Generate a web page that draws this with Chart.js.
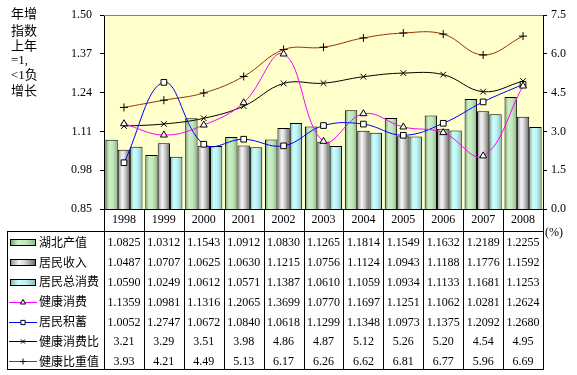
<!DOCTYPE html>
<html>
<head>
<meta charset="utf-8">
<script src="https://cdn.jsdelivr.net/npm/chart.js@4/dist/chart.umd.min.js"></script>
<style>
  html, body { margin: 0; padding: 0; background: #fff; }
  #wrap { width: 577px; height: 375px; }
</style>
</head>
<body>
<div id="wrap"><canvas id="chart"></canvas></div>
<script>
const years = ["1998", "1999", "2000", "2001", "2002", "2003", "2004", "2005", "2006", "2007", "2008"];
const gdpIndex = [1.0825, 1.0312, 1.1543, 1.0912, 1.0830, 1.1265, 1.1814, 1.1549, 1.1632, 1.2189, 1.2255];
const incomeIndex = [1.0487, 1.0707, 1.0625, 1.0630, 1.1215, 1.0756, 1.1124, 1.0943, 1.1188, 1.1776, 1.1592];
const consumeIndex = [1.0590, 1.0249, 1.0612, 1.0571, 1.1387, 1.0610, 1.1059, 1.0934, 1.1133, 1.1681, 1.1253];
const healthIndex = [1.1359, 1.0981, 1.1316, 1.2065, 1.3699, 1.0770, 1.1697, 1.1251, 1.1062, 1.0281, 1.2624];
const savingIndex = [1.0052, 1.2747, 1.0672, 1.0840, 1.0618, 1.1299, 1.1348, 1.0973, 1.1375, 1.2092, 1.2680];
const healthRatio = [3.21, 3.29, 3.51, 3.98, 4.86, 4.87, 5.12, 5.26, 5.20, 4.54, 4.95];
const healthShare = [3.93, 4.21, 4.49, 5.13, 6.17, 6.26, 6.62, 6.81, 6.77, 5.96, 6.69];
const leftTicks = [0.85, 0.98, 1.11, 1.24, 1.37, 1.50];
const rightTicks = [0, 1.5, 3.0, 4.5, 6.0, 7.5];
const titleLines = ["年增", "指数", "上年", "=1,", "<1负", "增长"];

const CAT_PCT = 0.93;
const SERIF = '"Liberation Serif", "Times New Roman", serif';
const CJK = '"Noto Sans CJK SC", sans-serif';

const greenStops = [[0, "#6f9a6f"], [0.3, "#cdf0c6"], [0.6, "#c2e8bc"], [1, "#8cb68c"]];
const grayStops = [[0, "#8a8a8a"], [0.35, "#f6f6f6"], [0.55, "#d8d8d8"], [1, "#666666"]];
const cyanStops = [[0, "#7faaaa"], [0.3, "#cbffff"], [0.6, "#bdf2f2"], [1, "#86bcbc"]];

// gradient per bar, position taken from the category scale
function barFill(stops, barNo) {
  return (ctx) => {
    const chart = ctx.chart;
    const x = chart.scales && chart.scales.x;
    if (!x || ctx.dataIndex === undefined || !isFinite(x.left)) return stops[1][1];
    const cat = x.width / years.length;
    const group = cat * CAT_PCT;
    const bw = group / 3;
    const left = x.getPixelForValue(ctx.dataIndex) - group / 2 + bw * barNo;
    const g = chart.ctx.createLinearGradient(left, 0, left + bw, 0);
    stops.forEach(([o, c]) => g.addColorStop(o, c));
    return g;
  };
}

const series = [
  { label: "湖北产值", data: gdpIndex, kind: "bar", stops: greenStops, digits: 4 },
  { label: "居民收入", data: incomeIndex, kind: "bar", stops: grayStops, digits: 4 },
  { label: "居民总消费", data: consumeIndex, kind: "bar", stops: cyanStops, digits: 4 },
  { label: "健康消费", data: healthIndex, kind: "line", color: "#ff00ff", marker: "triangle", axis: "y", digits: 4 },
  { label: "居民积蓄", data: savingIndex, kind: "line", color: "#0000ff", marker: "rect", axis: "y", digits: 4 },
  { label: "健康消费比", data: healthRatio, kind: "line", color: "#000000", marker: "crossRot", axis: "y1", digits: 2 },
  { label: "健康比重值", data: healthShare, kind: "line", color: "#993300", marker: "cross", axis: "y1", digits: 2 },
];

let barNo = 0;
const datasets = series.map((s) => {
  if (s.kind === "bar") {
    return {
      type: "bar",
      label: s.label,
      data: s.data,
      yAxisID: "y",
      order: 2,
      backgroundColor: barFill(s.stops, barNo++),
      borderColor: "#000",
      borderWidth: 1,
      categoryPercentage: CAT_PCT,
      barPercentage: 1,
    };
  }
  return {
    type: "line",
    label: s.label,
    data: s.data,
    yAxisID: s.axis,
    order: 1,
    borderColor: s.color,
    borderWidth: 1,
    tension: 0.4,
    pointStyle: s.marker,
    pointRadius: 4,
    pointBorderColor: "#000",
    pointBorderWidth: 1,
    pointBackgroundColor: "#fff",
  };
});

const tablePlugin = {
  id: "tablePlugin",
  beforeDraw(chart) {
    const { ctx, chartArea: a } = chart;
    ctx.save();
    ctx.fillStyle = "#ffffcc";
    ctx.fillRect(a.left, a.top, a.right - a.left, a.bottom - a.top);
    ctx.restore();
  },
  afterDraw(chart) {
    const { ctx, chartArea: a } = chart;
    const x = chart.scales.x;
    const cat = x.width / years.length;
    const tableTop = 231;
    const tableBottom = 369;
    const tableLeft = 7;
    const rowTop = 242.3;
    const rowH = 19.8;

    ctx.save();
    // plot frame top
    ctx.strokeStyle = "#808080";
    ctx.lineWidth = 1;
    ctx.beginPath();
    ctx.moveTo(a.left, Math.round(a.top) + 0.5);
    ctx.lineTo(a.right, Math.round(a.top) + 0.5);
    ctx.stroke();

    // table grid
    ctx.strokeStyle = "#000";
    ctx.beginPath();
    const hline = (y, x0, x1) => { ctx.moveTo(x0, y + 0.5); ctx.lineTo(x1, y + 0.5); };
    const vline = (xx, y0, y1) => { ctx.moveTo(Math.round(xx) + 0.5, y0); ctx.lineTo(Math.round(xx) + 0.5, y1); };
    hline(Math.round(a.bottom), a.left, a.right + 1);
    hline(tableTop, tableLeft, a.right + 1);
    hline(tableBottom, tableLeft, a.right + 1);
    vline(tableLeft, tableTop, tableBottom + 1);
    for (let i = 0; i <= years.length; i++) {
      vline(x.left + i * cat, a.bottom, tableBottom + 1);
    }
    ctx.stroke();

    // rows
    ctx.textBaseline = "middle";
    series.forEach((s, r) => {
      const cy = rowTop + r * rowH;
      // legend symbol
      if (s.kind === "bar") {
        const g = ctx.createLinearGradient(10, 0, 36, 0);
        s.stops.forEach(([o, c]) => g.addColorStop(o, c));
        ctx.fillStyle = g;
        ctx.fillRect(10, Math.round(cy) - 3, 26, 6);
        ctx.strokeStyle = "#000";
        ctx.strokeRect(10.5, Math.round(cy) - 2.5, 25, 6);
      } else {
        ctx.strokeStyle = s.color;
        ctx.beginPath();
        ctx.moveTo(9, Math.round(cy) + 0.5);
        ctx.lineTo(37, Math.round(cy) + 0.5);
        ctx.stroke();
        ctx.strokeStyle = "#000";
        ctx.fillStyle = "#fff";
        ctx.lineWidth = 1;
        Chart.helpers.drawPoint(ctx, { pointStyle: s.marker, rotation: 0, radius: 3, borderWidth: 1 }, 23, Math.round(cy) + 0.5);
      }
      ctx.fillStyle = "#000";
      ctx.textAlign = "left";
      ctx.font = "12px " + CJK;
      ctx.fillText(s.label, 39, cy);

      ctx.textAlign = "center";
      ctx.font = "12px " + SERIF;
      s.data.forEach((v, i) => {
        ctx.fillText(v.toFixed(s.digits), x.getPixelForValue(i), cy + 1);
      });
    });

    // left title
    ctx.textAlign = "left";
    ctx.font = "13px " + SERIF.replace(", serif", "") + ", " + CJK;
    const titleY = [15, 32, 47, 61, 76, 92];
    titleLines.forEach((t, i) => ctx.fillText(t, 11, titleY[i]));

    // unit
    ctx.font = "12px " + SERIF;
    ctx.fillText("(%)", 545, 233);
    ctx.restore();
  },
};

new Chart(document.getElementById("chart"), {
  data: { labels: years, datasets },
  options: {
    responsive: true,
    maintainAspectRatio: false,
    animation: false,
    devicePixelRatio: 1,
    layout: { padding: { top: 15, bottom: 144, left: 0, right: 0 } },
    plugins: { legend: { display: false }, tooltip: { enabled: false } },
    scales: {
      x: {
        grid: { display: false, drawTicks: false },
        border: { display: false },
        ticks: { color: "#000", font: { family: SERIF, size: 12 }, padding: 4, maxRotation: 0 },
        afterFit: (s) => { s.height = 22; },
      },
      y: {
        position: "left",
        min: 0.85,
        max: 1.5,
        afterBuildTicks: (s) => { s.ticks = leftTicks.map((v) => ({ value: v })); },
        afterFit: (s) => { s.width = 104; },
        grid: { drawOnChartArea: false, drawTicks: true, tickLength: 4, color: "#000" },
        border: { display: true, color: "#000" },
        ticks: { color: "#000", font: { family: SERIF, size: 12 }, padding: 8, callback: (v) => Number(v).toFixed(2) },
      },
      y1: {
        position: "right",
        min: 0,
        max: 7.5,
        afterBuildTicks: (s) => { s.ticks = rightTicks.map((v) => ({ value: v })); },
        afterFit: (s) => { s.width = 34; },
        grid: { drawOnChartArea: false, drawTicks: true, tickLength: 4, color: "#000" },
        border: { display: true, color: "#000" },
        ticks: { color: "#000", font: { family: SERIF, size: 12 }, padding: 4, callback: (v) => Number(v).toFixed(1) },
      },
    },
  },
  plugins: [tablePlugin],
});
</script>
</body>
</html>
